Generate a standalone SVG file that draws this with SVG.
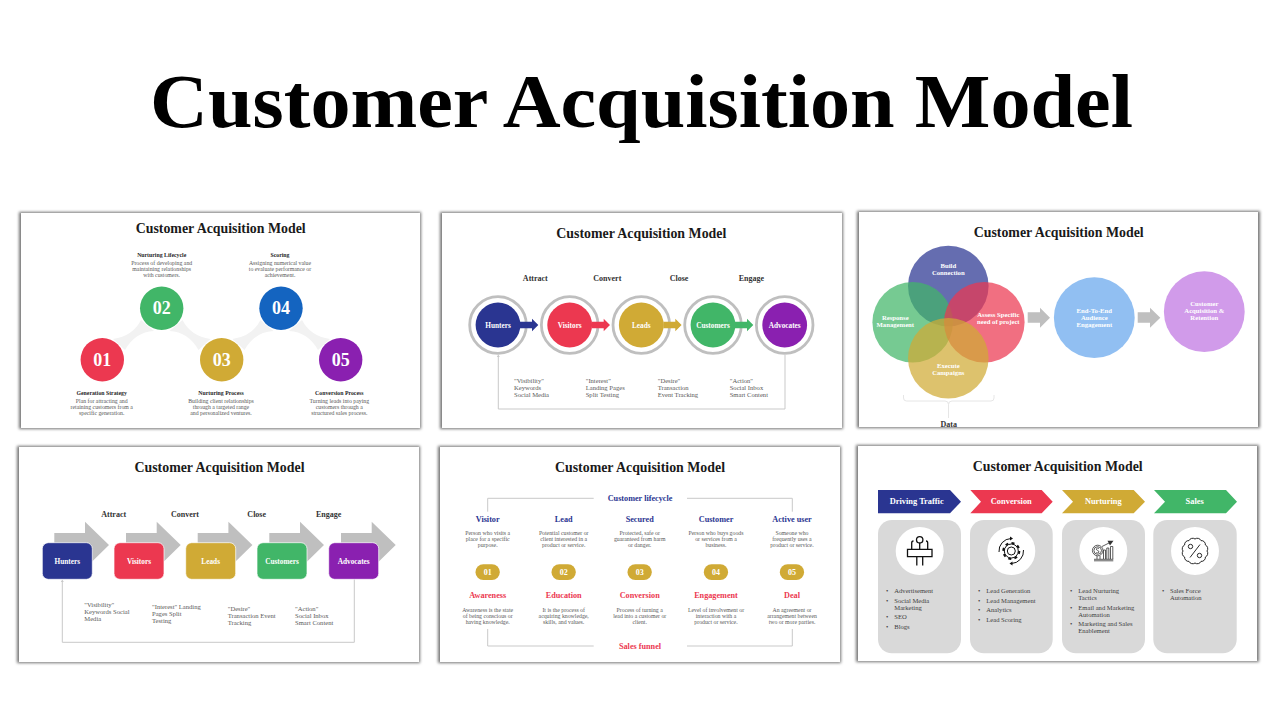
<svg xmlns="http://www.w3.org/2000/svg" width="1280" height="720" viewBox="0 0 1280 720">
<defs>
<filter id="sh" x="-5%" y="-8%" width="110%" height="116%"><feGaussianBlur stdDeviation="1.800"/></filter>
</defs>
<style>
text{font-family:"Liberation Serif","DejaVu Serif",serif}
.pan{fill:#fff}
.shd{fill:#767676;filter:url(#sh)}
.h1{font-size:14.500px;font-weight:700;fill:#1a1a1a;text-anchor:middle}
.b{font-size:5.800px;font-weight:700;fill:#262626;text-anchor:middle}
.d{font-size:5.800px;fill:#595959;text-anchor:middle}
.n{font-size:18px;font-weight:700;fill:#fff;text-anchor:middle}
.w{font-size:7.300px;font-weight:700;fill:#fff;text-anchor:middle}
.v{font-size:6.700px;font-weight:700;fill:#fff;text-anchor:middle}
.p{font-size:8px;font-weight:700;fill:#fff;text-anchor:middle}
.s{font-size:8px;font-weight:700;fill:#333;text-anchor:middle}
.l{font-size:6.600px;fill:#595959}
.bl{font-size:8.200px;font-weight:700;fill:#2a3591;text-anchor:middle}
.rd{font-size:8.200px;font-weight:700;fill:#ec3850;text-anchor:middle}
.wh{font-size:8.400px;font-weight:700;fill:#fff;text-anchor:middle}
.it{font-size:6.600px;fill:#404040}
.ln{fill:none;stroke:#c9c9c9;stroke-width:1}
.band{fill:#f2f2f2}
.ic{fill:none;stroke:#111;stroke-width:1}
</style>
<rect width="1280" height="720" fill="#fff"/>
<text x="641.500" y="127" text-anchor="middle" font-size="77" font-weight="700" fill="#000" textLength="983" lengthAdjust="spacingAndGlyphs">Customer Acquisition Model</text>

<g id="panel1">
<rect class="shd" x="19" y="212" width="402" height="217"/><rect class="pan" x="21" y="213" width="399" height="215"/>
<text class="h1" x="220.700" y="233" textLength="170" lengthAdjust="spacingAndGlyphs">Customer Acquisition Model</text>
<g id="p1-connectors">
<path class="band" d="M113 339Q133 336 141 320L154 331Q135 332 125 350Z"/>
<path class="band" d="M210.500 339Q190.500 336 182.500 320L169.500 331Q188.500 332 198.500 350Z"/>
<path class="band" d="M232.500 339Q252.500 336 260.500 320L273.500 331Q254.500 332 244.500 350Z"/>
<path class="band" d="M330 339Q310 336 302 320L289 331Q308 332 318 350Z"/>
</g>
<g id="p1-n1"><circle cx="102.300" cy="359.700" r="22.500" fill="#fff"/><circle cx="102.300" cy="359.700" r="21.700" fill="#ec3850"/><text class="n" x="102.300" y="365.500">01</text>
<text class="b" x="101.700" y="394.700">Generation Strategy</text><text class="d" x="101.700" y="403.300">Plan for attracting and</text><text class="d" x="101.700" y="409.300">retaining customers from a</text><text class="d" x="101.700" y="415.300">specific generation.</text></g>
<g id="p1-n2"><circle cx="161.700" cy="308.300" r="22.500" fill="#fff"/><circle cx="161.700" cy="308.300" r="21.700" fill="#41b668"/><text class="n" x="161.700" y="314">02</text>
<text class="b" x="161.700" y="256.500">Nurturing Lifecycle</text><text class="d" x="161.700" y="265">Process of developing and</text><text class="d" x="161.700" y="271">maintaining relationships</text><text class="d" x="161.700" y="277">with customers.</text></g>
<g id="p1-n3"><circle cx="221.700" cy="359.700" r="22.500" fill="#fff"/><circle cx="221.700" cy="359.700" r="21.700" fill="#d0aa35"/><text class="n" x="221.700" y="365.500">03</text>
<text class="b" x="221" y="394.700">Nurturing Process</text><text class="d" x="221" y="403.300">Building client relationships</text><text class="d" x="221" y="409.300">through a targeted range</text><text class="d" x="221" y="415.300">and personalized ventures.</text></g>
<g id="p1-n4"><circle cx="281" cy="308.300" r="22.500" fill="#fff"/><circle cx="281" cy="308.300" r="21.700" fill="#1464c0"/><text class="n" x="281" y="314">04</text>
<text class="b" x="280" y="256.500">Scoring</text><text class="d" x="280" y="265">Assigning numerical value</text><text class="d" x="280" y="271">to evaluate performance or</text><text class="d" x="280" y="277">achievement.</text></g>
<g id="p1-n5"><circle cx="340.700" cy="359.700" r="22.500" fill="#fff"/><circle cx="340.700" cy="359.700" r="21.700" fill="#8a20b0"/><text class="n" x="340.700" y="365.500">05</text>
<text class="b" x="339.300" y="394.700">Conversion Process</text><text class="d" x="339.300" y="403.300">Turning leads into paying</text><text class="d" x="339.300" y="409.300">customers through a</text><text class="d" x="339.300" y="415.300">structured sales process.</text></g>
</g>

<g id="panel2">
<rect class="shd" x="440" y="212" width="403" height="217"/><rect class="pan" x="442" y="213" width="400" height="215"/>
<text class="h1" x="641.300" y="238" textLength="170" lengthAdjust="spacingAndGlyphs">Customer Acquisition Model</text>
<g id="p2-n1"><circle cx="498" cy="325" r="28.300" fill="#fff" stroke="#bfbfbf" stroke-width="2.800"/><circle cx="498" cy="325" r="22.400" fill="#2a3591"/><text class="w" x="498" y="327.500">Hunters</text></g>
<g id="p2-n2"><circle cx="569.700" cy="325" r="28.300" fill="#fff" stroke="#bfbfbf" stroke-width="2.800"/><circle cx="569.700" cy="325" r="22.400" fill="#ec3850"/><text class="w" x="569.700" y="327.500">Visitors</text></g>
<g id="p2-n3"><circle cx="641.300" cy="325" r="28.300" fill="#fff" stroke="#bfbfbf" stroke-width="2.800"/><circle cx="641.300" cy="325" r="22.400" fill="#d0aa35"/><text class="w" x="641.300" y="327.500">Leads</text></g>
<g id="p2-n4"><circle cx="713" cy="325" r="28.300" fill="#fff" stroke="#bfbfbf" stroke-width="2.800"/><circle cx="713" cy="325" r="22.400" fill="#41b668"/><text class="w" x="713" y="327.500">Customers</text></g>
<g id="p2-n5"><circle cx="784.700" cy="325" r="28.300" fill="#fff" stroke="#bfbfbf" stroke-width="2.800"/><circle cx="784.700" cy="325" r="22.400" fill="#8a20b0"/><text class="w" x="784.700" y="327.500">Advocates</text></g>
<g id="p2-connectors">
<path class="ln" d="M785 355V409H498.300V356"/><path d="M498.300 354.500l-1.500 2.500h3z" fill="#c9c9c9"/>
<path fill="#2a3591" d="M520 321.700h12v-3l6.300 6.300-6.300 6.300v-3h-12z"/>
<path fill="#ec3850" d="M591.700 321.700h12v-3l6.300 6.300-6.300 6.300v-3h-12z"/>
<path fill="#d0aa35" d="M663.300 321.700h12v-3l6.300 6.300-6.300 6.300v-3h-12z"/>
<path fill="#41b668" d="M735 321.700h12v-3l6.300 6.300-6.300 6.300v-3h-12z"/>
</g>
<text class="s" x="535.300" y="281">Attract</text><text class="s" x="607.300" y="281">Convert</text><text class="s" x="679" y="281">Close</text><text class="s" x="751.300" y="281">Engage</text>
<text class="l" x="514" y="382.700">"Visibility"</text><text class="l" x="514" y="389.700">Keywords</text><text class="l" x="514" y="396.700">Social Media</text>
<text class="l" x="585.700" y="382.700">"Interest"</text><text class="l" x="585.700" y="389.700">Landing Pages</text><text class="l" x="585.700" y="396.700">Split Testing</text>
<text class="l" x="657.700" y="382.700">"Desire"</text><text class="l" x="657.700" y="389.700">Transaction</text><text class="l" x="657.700" y="396.700">Event Tracking</text>
<text class="l" x="729.700" y="382.700">"Action"</text><text class="l" x="729.700" y="389.700">Social Inbox</text><text class="l" x="729.700" y="396.700">Smart Content</text>
</g>

<g id="panel3">
<rect class="shd" x="857" y="211" width="403" height="217"/><rect class="pan" x="859" y="212" width="399" height="215"/>
<text class="h1" x="1058.700" y="237" textLength="170" lengthAdjust="spacingAndGlyphs">Customer Acquisition Model</text>
<g id="p3-connectors">
<path fill="#bfbfbf" d="M1027.700 312.300H1040V307.700L1050 317.700 1040 327.700V322.700H1027.700z"/>
<path fill="#bfbfbf" d="M1137.700 312.300H1150V307.700L1160.300 317.700 1150 327.700V322.700H1137.700z"/>
<path d="M903.500 395v3q0 3 3 3H945q3.500 0 3.500 3.500V418M994 395v3q0 3-3 3H952q-3.500 0-3.500 3.500" fill="none" stroke="#e6e6e6" stroke-width="1"/>
</g>
<g id="p3-venn" fill-opacity=".72">
<circle id="p3-n1" cx="948.300" cy="286" r="40.300" fill="#2a3591"/>
<circle id="p3-n2" cx="912.700" cy="322.300" r="40.300" fill="#41b668"/>
<circle id="p3-n3" cx="984.300" cy="322.300" r="40.300" fill="#ec3850"/>
<circle id="p3-n4" cx="948.300" cy="358.300" r="40.300" fill="#d0aa35"/>
</g>
<g id="p3-n5"><circle cx="1094.300" cy="317.700" r="40.400" fill="#91bff2"/><text class="v" x="1094.300" y="312.700">End-To-End</text><text class="v" x="1094.300" y="319.700">Audience</text><text class="v" x="1094.300" y="326.700">Engagement</text></g>
<g id="p3-n6"><circle cx="1204.300" cy="311.700" r="40.400" fill="#d19bea"/><text class="v" x="1204.300" y="306.300">Customer</text><text class="v" x="1204.300" y="313.300">Acquisition &amp;</text><text class="v" x="1204.300" y="320.300">Retention</text></g>
<text class="v" x="948.300" y="268">Build</text><text class="v" x="948.300" y="275">Connection</text>
<text class="v" x="895.300" y="320">Response</text><text class="v" x="895.300" y="327">Management</text>
<text class="v" x="998.300" y="317">Assess Specific</text><text class="v" x="998.300" y="324">need of project</text>
<text class="v" x="948.300" y="368.300">Execute</text><text class="v" x="948.300" y="375.300">Campaigns</text>
<text class="s" x="948.700" y="427" fill="#1a1a1a">Data</text>
</g>

<g id="panel4">
<rect class="shd" x="17" y="446" width="403" height="217"/><rect class="pan" x="19" y="447" width="400" height="215"/>
<text class="h1" x="219.500" y="472" textLength="170" lengthAdjust="spacingAndGlyphs">Customer Acquisition Model</text>
<g id="p4-connectors">
<path class="ln" d="M354.300 579V642.300H62.300V581"/><path d="M62.300 579.500l-1.500 2.500h3z" fill="#c9c9c9"/>
<path fill="#bfbfbf" d="M54.300 533H85V521.700L109 545 85 568.500V557H54.300z"/>
<path fill="#bfbfbf" d="M126 533H156.700V521.700L180.700 545 156.700 568.500V557H126z"/>
<path fill="#bfbfbf" d="M197.700 533H228.400V521.700L252.400 545 228.400 568.500V557H197.700z"/>
<path fill="#bfbfbf" d="M269.300 533H300V521.700L324 545 300 568.500V557H269.300z"/>
<path fill="#bfbfbf" d="M341 533H371.700V521.700L395.700 545 371.700 568.500V557H341z"/>
</g>
<g id="p4-n1"><rect x="42.300" y="542.700" width="50" height="36.600" rx="6" fill="#2a3591" stroke="#fff" stroke-width=".7"/><text class="w" x="67.300" y="563.500">Hunters</text></g>
<g id="p4-n2"><rect x="114" y="542.700" width="50" height="36.600" rx="6" fill="#ec3850" stroke="#fff" stroke-width=".7"/><text class="w" x="139" y="563.500">Visitors</text></g>
<g id="p4-n3"><rect x="185.700" y="542.700" width="50" height="36.600" rx="6" fill="#d0aa35" stroke="#fff" stroke-width=".7"/><text class="w" x="210.700" y="563.500">Leads</text></g>
<g id="p4-n4"><rect x="257" y="542.700" width="50" height="36.600" rx="6" fill="#41b668" stroke="#fff" stroke-width=".7"/><text class="w" x="282" y="563.500">Customers</text></g>
<g id="p4-n5"><rect x="328.700" y="542.700" width="50" height="36.600" rx="6" fill="#8a20b0" stroke="#fff" stroke-width=".7"/><text class="w" x="353.700" y="563.500">Advocates</text></g>
<text class="s" x="113.700" y="517">Attract</text><text class="s" x="185" y="517">Convert</text><text class="s" x="256.700" y="517">Close</text><text class="s" x="328.700" y="517">Engage</text>
<text class="l" x="84.300" y="607.300">"Visibility"</text><text class="l" x="84.300" y="614.300">Keywords Social</text><text class="l" x="84.300" y="621.300">Media</text>
<text class="l" x="152" y="608.700">"Interest" Landing</text><text class="l" x="152" y="615.700">Pages Split</text><text class="l" x="152" y="622.700">Testing</text>
<text class="l" x="227.700" y="610.700">"Desire"</text><text class="l" x="227.700" y="617.700">Transaction Event</text><text class="l" x="227.700" y="624.700">Tracking</text>
<text class="l" x="295" y="610.700">"Action"</text><text class="l" x="295" y="617.700">Social Inbox</text><text class="l" x="295" y="624.700">Smart Content</text>
</g>

<g id="panel5">
<rect class="shd" x="438" y="446" width="403" height="217"/><rect class="pan" x="440" y="447" width="400" height="215"/>
<text class="h1" x="640" y="472" textLength="170" lengthAdjust="spacingAndGlyphs">Customer Acquisition Model</text>
<g id="p5-connectors">
<path class="ln" d="M487.700 511.700V498.300H593.700M687 498.300H792.300V511.700"/>
<path class="ln" d="M487.700 629V646H593.700M687 646H792.300V629"/>
</g>
<text class="bl" x="640" y="500.700">Customer lifecycle</text>
<text class="rd" x="640" y="649">Sales funnel</text>
<g id="p5-c1"><text class="bl" x="487.700" y="521.700">Visitor</text><text class="d" x="487.700" y="535.300">Person who visits a</text><text class="d" x="487.700" y="541.300">place for a specific</text><text class="d" x="487.700" y="547.300">purpose.</text>
<rect x="475.500" y="564.300" width="24.300" height="15.700" rx="7.800" fill="#d0aa35"/><text class="p" x="487.700" y="574.700">01</text>
<text class="rd" x="487.700" y="598.300">Awareness</text><text class="d" x="487.700" y="611.700">Awareness is the state</text><text class="d" x="487.700" y="617.700">of being conscious or</text><text class="d" x="487.700" y="623.700">having knowledge.</text></g>
<g id="p5-c2"><text class="bl" x="563.700" y="521.700">Lead</text><text class="d" x="563.700" y="535.300">Potential customer or</text><text class="d" x="563.700" y="541.300">client interested in a</text><text class="d" x="563.700" y="547.300">product or service.</text>
<rect x="551.500" y="564.300" width="24.300" height="15.700" rx="7.800" fill="#d0aa35"/><text class="p" x="563.700" y="574.700">02</text>
<text class="rd" x="563.700" y="598.300">Education</text><text class="d" x="563.700" y="611.700">It is the process of</text><text class="d" x="563.700" y="617.700">acquiring knowledge,</text><text class="d" x="563.700" y="623.700">skills, and values.</text></g>
<g id="p5-c3"><text class="bl" x="639.700" y="521.700">Secured</text><text class="d" x="639.700" y="535.300">Protected, safe or</text><text class="d" x="639.700" y="541.300">guaranteed from harm</text><text class="d" x="639.700" y="547.300">or danger.</text>
<rect x="627.500" y="564.300" width="24.300" height="15.700" rx="7.800" fill="#d0aa35"/><text class="p" x="639.700" y="574.700">03</text>
<text class="rd" x="639.700" y="598.300">Conversion</text><text class="d" x="639.700" y="611.700">Process of turning a</text><text class="d" x="639.700" y="617.700">lead into a customer or</text><text class="d" x="639.700" y="623.700">client.</text></g>
<g id="p5-c4"><text class="bl" x="716" y="521.700">Customer</text><text class="d" x="716" y="535.300">Person who buys goods</text><text class="d" x="716" y="541.300">or services from a</text><text class="d" x="716" y="547.300">business.</text>
<rect x="703.800" y="564.300" width="24.300" height="15.700" rx="7.800" fill="#d0aa35"/><text class="p" x="716" y="574.700">04</text>
<text class="rd" x="716" y="598.300">Engagement</text><text class="d" x="716" y="611.700">Level of involvement or</text><text class="d" x="716" y="617.700">interaction with a</text><text class="d" x="716" y="623.700">product or service.</text></g>
<g id="p5-c5"><text class="bl" x="792" y="521.700">Active user</text><text class="d" x="792" y="535.300">Someone who</text><text class="d" x="792" y="541.300">frequently uses a</text><text class="d" x="792" y="547.300">product or service.</text>
<rect x="779.800" y="564.300" width="24.300" height="15.700" rx="7.800" fill="#d0aa35"/><text class="p" x="792" y="574.700">05</text>
<text class="rd" x="792" y="598.300">Deal</text><text class="d" x="792" y="611.700">An agreement or</text><text class="d" x="792" y="617.700">arrangement between</text><text class="d" x="792" y="623.700">two or more parties.</text></g>
</g>

<g id="panel6">
<rect class="shd" x="856" y="445" width="403" height="217"/><rect class="pan" x="858" y="446" width="399" height="215"/>
<text class="h1" x="1057.700" y="471" textLength="170" lengthAdjust="spacingAndGlyphs">Customer Acquisition Model</text>
<g id="p6-c1"><path fill="#2a3591" d="M878 490H950L961 501.700 950 513.300H878z"/><text class="wh" x="916.700" y="504">Driving Traffic</text>
<rect x="878" y="520" width="83" height="133.300" rx="14" fill="#d9d9d9"/><circle cx="919.700" cy="551" r="24" fill="#fff"/>
<g class="ic" style="stroke-width:1.300"><circle cx="919.700" cy="539.800" r="3.200"/><path d="M919.700 543V549.300M907.500 549.300H932V556.700H907.500zM911.700 549.300V543Q911.700 541 913.500 541M927.700 549.300V543Q927.700 541 926 541M916.800 556.700V565.500M922.700 556.700V565.500"/></g>
<text class="it" x="886" y="593.300">•</text><text class="it" x="894.300" y="593.300">Advertisement</text>
<text class="it" x="886" y="602.700">•</text><text class="it" x="894.300" y="602.700">Social Media</text><text class="it" x="894.300" y="609.700">Marketing</text>
<text class="it" x="886" y="619.300">•</text><text class="it" x="894.300" y="619.300">SEO</text>
<text class="it" x="886" y="628.700">•</text><text class="it" x="894.300" y="628.700">Blogs</text></g>
<g id="p6-c2"><path fill="#ec3850" d="M970.300 490H1041.700L1052.700 501.700 1041.700 513.300H970.300L981 501.700z"/><text class="wh" x="1011.300" y="504">Conversion</text>
<rect x="970" y="520" width="82.700" height="133.300" rx="14" fill="#d9d9d9"/><circle cx="1011.300" cy="551" r="24" fill="#fff"/>
<g class="ic"><circle cx="1011.300" cy="551" r="4"/><circle cx="1011.300" cy="551" r="7"/><circle cx="1011.300" cy="551" r="8" stroke-width="2" stroke-dasharray="3 3.280"/><path d="M999 552A12.500 12.500 0 0 1 1011 538.500M1023.500 550A12.500 12.500 0 0 1 1011.500 563.500"/><path d="M1010 536.500L1013 538.500 1010 540.500zM1012.500 561.500L1009.500 563.500 1012.500 565.500z" fill="#111" stroke="none"/></g>
<text class="it" x="978" y="593.300">•</text><text class="it" x="986.300" y="593.300">Lead Generation</text>
<text class="it" x="978" y="602.700">•</text><text class="it" x="986.300" y="602.700">Lead Management</text>
<text class="it" x="978" y="612">•</text><text class="it" x="986.300" y="612">Analytics</text>
<text class="it" x="978" y="621.700">•</text><text class="it" x="986.300" y="621.700">Lead Scoring</text></g>
<g id="p6-c3"><path fill="#d0aa35" d="M1062 490H1133.700L1145 501.700 1133.700 513.300H1062L1073 501.700z"/><text class="wh" x="1103.300" y="504">Nurturing</text>
<rect x="1062" y="520" width="83" height="133.300" rx="14" fill="#d9d9d9"/><circle cx="1103.300" cy="551" r="24" fill="#fff"/>
<g class="ic" style="stroke:#333;stroke-width:.8"><circle cx="1097.700" cy="550.500" r="5.300"/><circle cx="1097.700" cy="550.500" r="3.800"/><path d="M1099 548.500Q1097.700 547.500 1096.500 548.700 1096 550 1097.700 550.500 1099.300 551 1098.800 552.300 1097.700 553.500 1096.300 552.500"/><path d="M1094 560.800H1113.300M1094 559.300H1113.300M1103.500 559V550H1105.500V559M1106.800 559V548H1108.800V559M1110.500 559V546.500H1112.800V559M1097 559V556M1100 559V556M1102 546.500L1109 543"/><path d="M1107.500 540.800L1113.500 540.800 1110 545.500z" fill="#333" stroke="none"/></g>
<text class="it" x="1070" y="593.300">•</text><text class="it" x="1078.300" y="593.300">Lead Nurturing</text><text class="it" x="1078.300" y="600.300">Tactics</text>
<text class="it" x="1070" y="609.700">•</text><text class="it" x="1078.300" y="609.700">Email and Marketing</text><text class="it" x="1078.300" y="616.700">Automation</text>
<text class="it" x="1070" y="626">•</text><text class="it" x="1078.300" y="626">Marketing and Sales</text><text class="it" x="1078.300" y="633.300">Enablement</text></g>
<g id="p6-c4"><path fill="#41b668" d="M1154 490H1226L1237 501.700 1226 513.300H1154L1165 501.700z"/><text class="wh" x="1194.700" y="504">Sales</text>
<rect x="1153.300" y="520" width="83.400" height="133.300" rx="14" fill="#d9d9d9"/><circle cx="1195" cy="551" r="24" fill="#fff"/>
<g class="ic" style="stroke-width:.9"><path d="M1207 551A4 4 0 0 1 1205.390 557A4 4 0 0 1 1201 561.390A4 4 0 0 1 1195 563A4 4 0 0 1 1189 561.390A4 4 0 0 1 1184.610 557A4 4 0 0 1 1183 551A4 4 0 0 1 1184.610 545A4 4 0 0 1 1189 540.610A4 4 0 0 1 1195 539A4 4 0 0 1 1201 540.610A4 4 0 0 1 1205.390 545A4 4 0 0 1 1207 551Z"/><circle cx="1190.500" cy="546.500" r="2.200"/><circle cx="1199.500" cy="555.500" r="2.200"/><path d="M1200 544.500L1190 557.500"/></g>
<text class="it" x="1162" y="593.300">•</text><text class="it" x="1170" y="593.300">Sales Force</text><text class="it" x="1170" y="600.300">Automation</text></g>
</g>
</svg>
